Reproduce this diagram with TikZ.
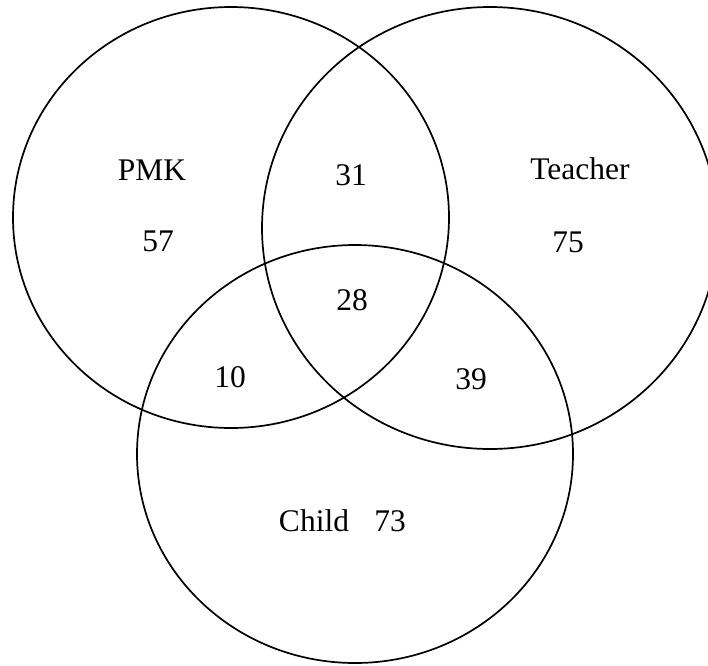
\documentclass[tikz,border=0pt]{standalone}
\usepackage{fontspec}
\setmainfont{Liberation Serif}
\begin{document}
\begin{tikzpicture}[x=1pt,y=-1pt,
  setline/.style={draw=black,line width=1.7pt},
  lab/.style={anchor=base,inner sep=0pt,font=\fontsize{31.5}{36}\selectfont}]
\useasboundingbox (0,0) rectangle (708,665);
\begin{scope}
\clip (0,0) rectangle (708,665);
\draw[setline] (231,217.5) ellipse [x radius=218, y radius=210.5];
\draw[setline] (490,228) ellipse [x radius=228, y radius=221];
\draw[setline] (355,454) ellipse [x radius=218, y radius=209];
\end{scope}
\node[lab] (pmk) at (152,180) {PMK};
\node[lab] (n57) at (158,251) {57};
\node[lab] (n31) at (351,185) {31};
\node[lab] (teacher) at (580,179) {Teacher};
\node[lab] (n75) at (568,252) {75};
\node[lab] (n28) at (352,310) {28};
\node[lab] (n10) at (230,387) {10};
\node[lab] (n39) at (471,389) {39};
\node[lab] (child) at (314,531) {Child};
\node[lab] (n73) at (390,531) {73};
\end{tikzpicture}
\end{document}
